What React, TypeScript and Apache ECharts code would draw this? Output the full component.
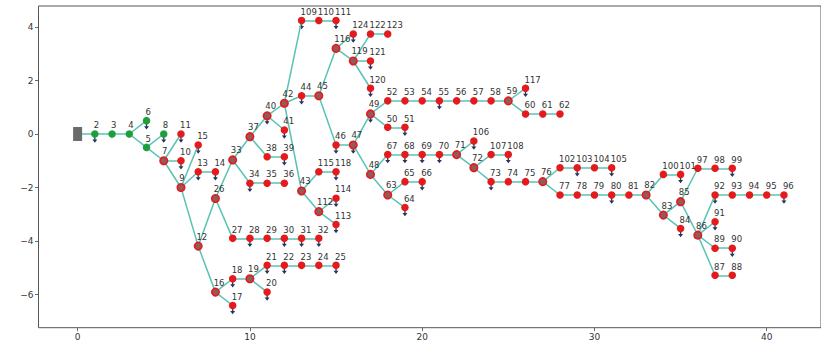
import React, { useEffect, useRef } from "react";
import * as echarts from "echarts";

const busIds = [
  1, 2, 3, 4, 5, 6, 7, 8, 9, 10, 11, 12, 13, 14, 15, 16, 17, 18, 19, 20,
  21, 22, 23, 24, 25, 26, 27, 28, 29, 30, 31, 32, 33, 34, 35, 36, 37, 38, 39, 40,
  41, 42, 43, 44, 45, 46, 47, 48, 49, 50, 51, 52, 53, 54, 55, 56, 57, 58, 59, 60,
  61, 62, 63, 64, 65, 66, 67, 68, 69, 70, 71, 72, 73, 74, 75, 76, 77, 78, 79, 80,
  81, 82, 83, 84, 85, 86, 87, 88, 89, 90, 91, 92, 93, 94, 95, 96, 97, 98, 99, 100,
  101, 102, 103, 104, 105, 106, 107, 108, 109, 110, 111, 112, 113, 114, 115, 116, 117, 118, 119, 120,
  121, 122, 123, 124,
];
const busX = [
  0, 1, 2, 3, 4, 4, 5, 5, 6, 6, 6, 7, 7, 8, 7, 8, 9, 9, 10, 11,
  11, 12, 13, 14, 15, 8, 9, 10, 11, 12, 13, 14, 9, 10, 11, 12, 10, 11, 12, 11,
  12, 12, 13, 13, 14, 15, 16, 17, 17, 18, 19, 18, 19, 20, 21, 22, 23, 24, 25, 26,
  27, 28, 18, 19, 19, 20, 18, 19, 20, 21, 22, 23, 24, 25, 26, 27, 28, 29, 30, 31,
  32, 33, 34, 35, 35, 36, 37, 38, 37, 38, 37, 37, 38, 39, 40, 41, 36, 37, 38, 34,
  35, 28, 29, 30, 31, 23, 24, 25, 13, 14, 15, 14, 15, 15, 14, 15, 26, 15, 16, 17,
  17, 17, 18, 16,
];
const busY = [
  0, 0, 0, 0, -0.5, 0.5, -1, 0, -2, -1, 0, -4.19, -1.41, -1.41, -0.41, -5.91, -6.41, -5.41, -5.41, -5.91,
  -4.91, -4.91, -4.91, -4.91, -4.91, -2.41, -3.9, -3.9, -3.9, -3.9, -3.9, -3.9, -0.97, -1.84, -1.84, -1.84, -0.1, -0.85, -0.85, 0.68,
  0.15, 1.15, -2.13, 1.43, 1.43, -0.41, -0.41, -1.51, 0.75, 0.25, 0.25, 1.24, 1.24, 1.24, 1.24, 1.24, 1.24, 1.24, 1.24, 0.75,
  0.75, 0.75, -2.28, -2.75, -1.78, -1.78, -0.77, -0.77, -0.77, -0.77, -0.77, -1.26, -1.78, -1.78, -1.78, -1.78, -2.28, -2.28, -2.28, -2.28,
  -2.28, -2.28, -3.03, -3.53, -2.53, -3.78, -5.28, -5.28, -4.27, -4.27, -3.28, -2.28, -2.28, -2.28, -2.28, -2.28, -1.28, -1.28, -1.28, -1.51,
  -1.51, -1.26, -1.26, -1.26, -1.26, -0.26, -0.77, -0.77, 4.24, 4.24, 4.24, -2.9, -3.38, -2.4, -1.41, 3.2, 1.71, -1.41, 2.73, 1.71,
  2.73, 3.74, 3.74, 3.74,
];

const lineFrom = [
  1, 2, 3, 4, 4, 5, 5, 7, 7, 7, 9, 9, 9, 13, 12, 12, 16, 16, 18, 19,
  19, 21, 22, 23, 24, 26, 27, 28, 29, 30, 31, 26, 33, 34, 35, 33, 37, 38, 37, 40,
  40, 42, 44, 42, 109, 110, 42, 43, 115, 43, 112, 112, 45, 116, 116, 119, 122, 119, 119, 45,
  46, 47, 49, 52, 53, 54, 55, 56, 57, 58, 59, 59, 60, 61, 49, 50, 47, 48, 67, 68,
  69, 70, 71, 71, 72, 107, 72, 73, 74, 75, 76, 102, 103, 104, 76, 77, 78, 79, 80, 81,
  82, 100, 82, 83, 83, 85, 97, 98, 85, 86, 92, 93, 94, 95, 86, 86, 89, 86, 87, 48,
  63, 65, 63,
];
const lineTo = [
  2, 3, 4, 5, 6, 7, 8, 10, 11, 9, 13, 15, 12, 14, 26, 16, 17, 18, 19, 20,
  21, 22, 23, 24, 25, 27, 28, 29, 30, 31, 32, 33, 34, 35, 36, 37, 38, 39, 40, 41,
  42, 44, 45, 109, 110, 111, 43, 115, 118, 112, 114, 113, 116, 124, 119, 122, 123, 121, 120, 46,
  47, 49, 52, 53, 54, 55, 56, 57, 58, 59, 117, 60, 61, 62, 50, 51, 48, 67, 68, 69,
  70, 71, 106, 72, 107, 108, 73, 74, 75, 76, 102, 103, 104, 105, 77, 78, 79, 80, 81, 82,
  100, 101, 83, 84, 85, 97, 98, 99, 86, 92, 93, 94, 95, 96, 91, 89, 90, 87, 88, 63,
  65, 66, 64,
];

const loadBuses = [
  2, 6, 8, 10, 11, 13, 14, 15, 17, 18, 20, 21, 22, 25, 28, 30, 31, 32, 34, 39,
  40, 41, 44, 46, 47, 49, 51, 55, 64, 66, 67, 68, 69, 70, 73, 80, 84, 90, 91, 92,
  96, 99, 101, 103, 105, 106, 108, 109, 111, 113, 114, 117, 118, 120, 121, 124,
];
const greenBuses = [2, 3, 4, 5, 6, 8];
const extGridBus = 1;

const xTicks = [0, 10, 20, 30, 40];
const yTicks = [-6, -4, -2, 0, 2, 4];

const RED = "#e41a1c";
const GREEN = "#1f9e3d";
const EDGE = "#58c3b5";
const FONT = "DejaVu Sans";

export default function App() {
  const ref = useRef<HTMLDivElement>(null);

  useEffect(() => {
    const chart = echarts.init(ref.current!, null, { renderer: "svg" });

    const degree: Record<number, number> = {};
    lineFrom.forEach((f, i) => {
      const t = lineTo[i];
      degree[f] = (degree[f] || 0) + 1;
      degree[t] = (degree[t] || 0) + 1;
    });

    const nodes = busIds.map((id, i) => {
      const base: any = { name: String(id), value: [busX[i], busY[i]] };
      if (id === extGridBus) {
        base.symbol = "rect";
        base.symbolSize = [9, 14];
        base.itemStyle = { color: "#6b6b6b" };
        base.label = { show: false };
        return base;
      }
      if (greenBuses.includes(id)) {
        base.itemStyle = { color: GREEN };
      } else if ((degree[id] || 0) >= 3) {
        base.itemStyle = { color: "#925a5a", borderColor: RED, borderWidth: 1.6 };
      } else {
        base.itemStyle = { color: RED };
      }
      return base;
    });

    const links = lineFrom.map((f, i) => ({ source: String(f), target: String(lineTo[i]) }));

    const loadData = loadBuses.map((b) => {
      const i = busIds.indexOf(b);
      return [busX[i], busY[i]];
    });

    const tickStyle = { color: "#444", width: 0.8 };
    const fmt = (v: number) => String(v).replace("-", "\u2212");

    const option: any = {
      animation: false,
      backgroundColor: "#ffffff",
      grid: {
        left: 38.5,
        right: -1,
        top: 6,
        bottom: 14.3,
        show: true,
        borderColor: "#555",
        borderWidth: 1,
        backgroundColor: "transparent",
      },
      xAxis: {
        type: "value",
        min: -2.27,
        max: 43.15,
        position: "bottom",
        axisLine: { show: false, onZero: false },
        splitLine: { show: false },
        axisTick: { show: true, length: 3.5, customValues: xTicks, lineStyle: tickStyle },
        axisLabel: {
          customValues: xTicks,
          fontFamily: FONT,
          fontSize: 9,
          color: "#333",
          margin: 5,
          formatter: fmt,
        },
      },
      yAxis: {
        type: "value",
        min: -7.24,
        max: 4.785,
        position: "left",
        axisLine: { show: false, onZero: false },
        splitLine: { show: false },
        axisTick: { show: true, length: 3.5, customValues: yTicks, lineStyle: tickStyle },
        axisLabel: {
          customValues: yTicks,
          fontFamily: FONT,
          fontSize: 9,
          color: "#333",
          margin: 5,
          formatter: fmt,
        },
      },
      series: [
        {
          type: "scatter",
          z: 1,
          data: loadData,
          symbol: "path://M3,0 L5,0 L5,5 L8,5 L4,10 L0,5 L3,5 Z",
          symbolSize: [5, 6.5],
          symbolOffset: [0, 5.5],
          itemStyle: { color: "#27365a", opacity: 1 },
          silent: true,
        },
        {
          type: "graph",
          z: 2,
          coordinateSystem: "cartesian2d",
          layout: "none",
          roam: false,
          draggable: false,
          symbol: "circle",
          symbolSize: 7.5,
          data: nodes,
          links: links,
          lineStyle: { color: EDGE, width: 1.5, opacity: 1, curveness: 0 },
          label: {
            show: true,
            position: [2.75, -5],
            align: "left",
            verticalAlign: "middle",
            formatter: "{b}",
            fontFamily: FONT,
            fontSize: 8.5,
            color: "#333",
          },
          emphasis: { disabled: true },
        },
      ],
    };

    chart.setOption(option);
    return () => chart.dispose();
  }, []);

  return (
    <div
      ref={ref}
      style={{ position: "fixed", left: 0, top: 0, width: 821, height: 342, background: "#fff" }}
    />
  );
}
